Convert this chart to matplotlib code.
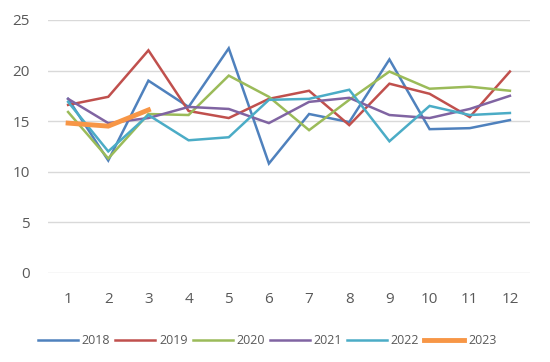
import matplotlib
matplotlib.use("Agg")
import matplotlib.pyplot as plt

months = list(range(1, 13))
y2018 = [17.2, 11.1, 19.0, 16.4, 22.2, 10.8, 15.7, 14.9, 21.1, 14.2, 14.3, 15.1]
y2019 = [16.6, 17.4, 22.0, 16.0, 15.3, 17.2, 18.0, 14.6, 18.7, 17.7, 15.4, 19.9]
y2020 = [15.9, 11.3, 15.7, 15.6, 19.5, 17.4, 14.1, 17.1, 19.9, 18.2, 18.4, 18.0]
y2021 = [17.2, 14.8, 15.3, 16.4, 16.2, 14.8, 16.9, 17.3, 15.6, 15.3, 16.2, 17.5]
y2022 = [16.9, 12.0, 15.6, 13.1, 13.4, 17.1, 17.2, 18.1, 13.0, 16.5, 15.6, 15.8]
y2023 = [14.8, 14.5, 16.1]

series = [
    ("2018", y2018, "#4F81BD", 1.8),
    ("2019", y2019, "#C0504D", 1.8),
    ("2020", y2020, "#9BBB59", 1.8),
    ("2021", y2021, "#8064A2", 1.8),
    ("2022", y2022, "#4BACC6", 1.8),
    ("2023", y2023, "#F79646", 3.5),
]

plt.rcParams['font.family'] = ['Open Sans', 'DejaVu Sans']

fig = plt.figure(figsize=(5.5, 3.62), dpi=100)
ax = fig.add_axes([48 / 550, 1 - 272.7 / 362, 482 / 550, 252.7 / 362])

for name, vals, color, lw in series:
    ax.plot(months[:len(vals)], vals, color=color, linewidth=lw, label=name,
            solid_joinstyle='miter')

ax.set_xlim(0.5, 12.5)
ax.set_ylim(0, 25)
ax.set_yticks(range(0, 26, 5))
ax.set_xticks(months)
ax.grid(axis='y', color='#D9D9D9', linewidth=1)
ax.set_axisbelow(True)
for s in ax.spines.values():
    s.set_visible(False)
ax.tick_params(length=0, labelsize=11, labelcolor='#595959')
ax.tick_params(axis='y', pad=13)
ax.tick_params(axis='x', pad=14)

ax.legend(loc='upper center', bbox_to_anchor=(0.455, -0.2), ncol=6, frameon=False,
          fontsize=9, handlelength=3.2, columnspacing=0.4, handletextpad=0.3,
          labelcolor='#595959')

fig.savefig("out.png", dpi=100)
